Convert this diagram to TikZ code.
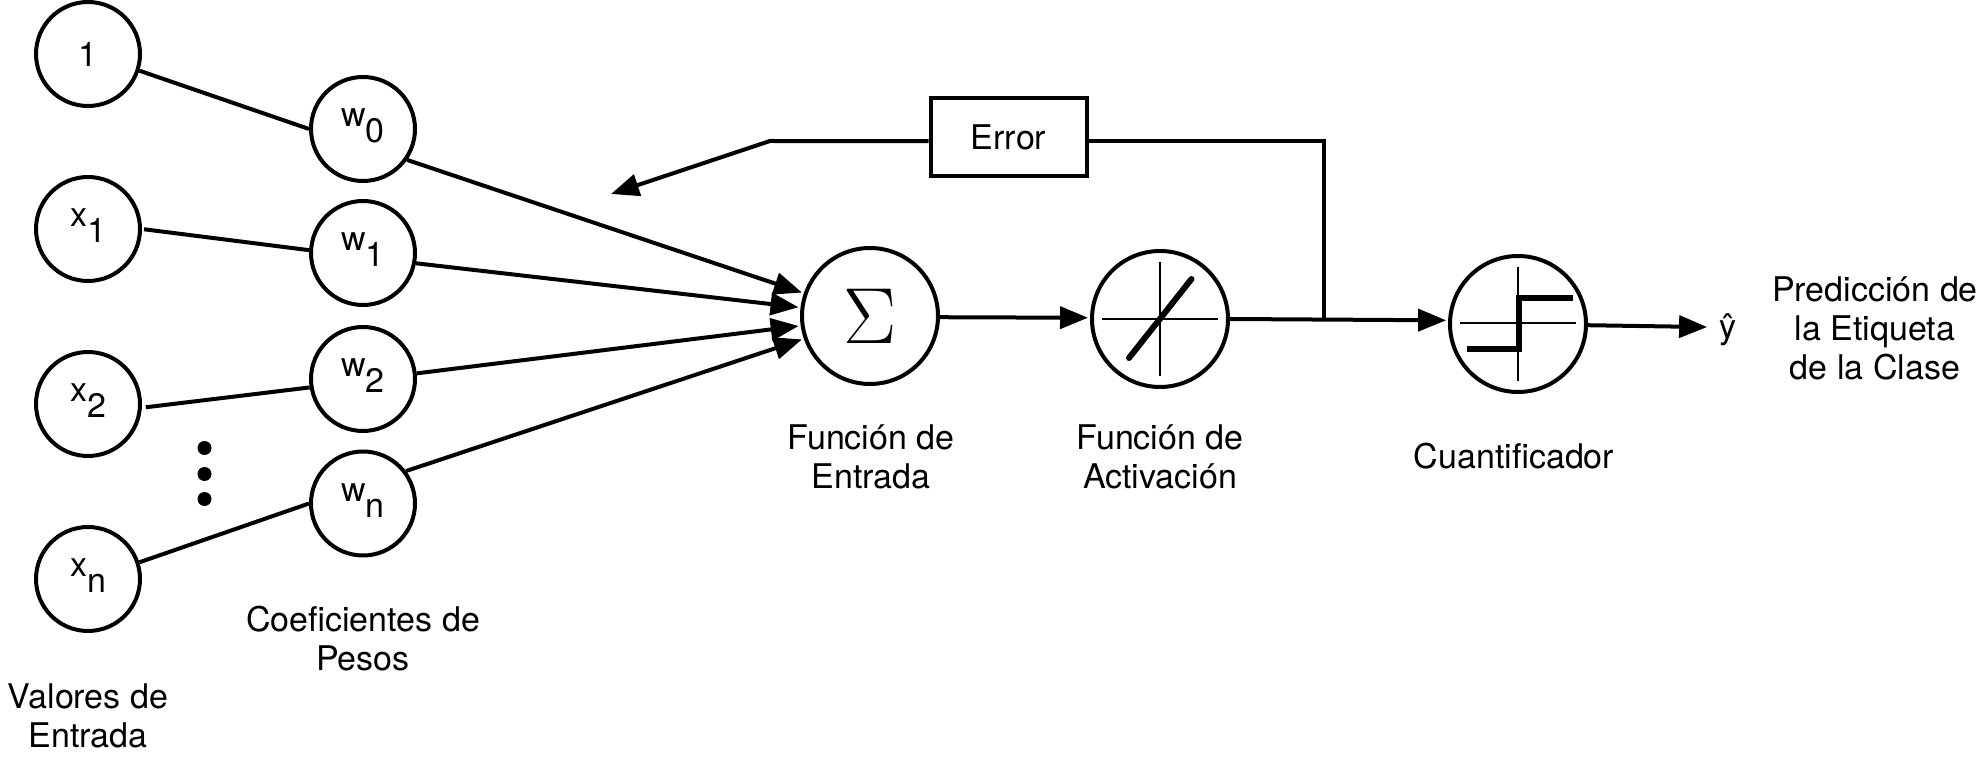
\documentclass[tikz,border=0pt]{standalone}
\usepackage{graphics}
\usepackage{fontspec}
\setmainfont{TeX Gyre Heros}
\usetikzlibrary{arrows.meta,positioning}
\newcommand{\lowsub}[2]{#1\raisebox{-8pt}{#2}\rule[-11pt]{0pt}{11pt}}

\begin{document}
\begin{tikzpicture}[x=0.5pt,y=-0.5pt]
\tikzstyle{every node}=[font=\fontsize{17}{19.5}\selectfont,align=center,inner sep=0pt]
\tikzstyle{ball}=[circle,draw,line width=2pt,minimum size=52pt]
\tikzstyle{unit}=[circle,draw,line width=2pt,minimum size=68pt]
\tikzstyle{wire}=[line width=2pt]
\tikzstyle{feed}=[line width=2pt,-{Triangle[length=14pt,width=11pt]},shorten >=1pt]
\tikzstyle{hair}=[line width=0.8pt]
\tikzstyle{bold}=[line width=3pt,line cap=round]
\useasboundingbox (0,0) rectangle (1988,764);

\node[ball] (in0) at (88,54) {1};
\node[ball] (in1) at (88,229) {\lowsub{x}{1}};
\node[ball] (in2) at (88,404) {\lowsub{x}{2}};
\node[ball] (inn) at (88,579) {\lowsub{x}{n}};
\node[ball] (w0) at (363,129) {\lowsub{w}{0}};
\node[ball] (w1) at (363,253) {\lowsub{w}{1}};
\node[ball] (w2) at (363,379) {\lowsub{w}{2}};
\node[ball] (wn) at (363,503.5) {\lowsub{w}{n}};
\foreach \name/\y in {dota/448,dotb/474,dotc/499}
	\node[circle,fill,minimum size=7pt] (\name) at (204.5,\y) {};

\node[unit] (sum) at (870,316) {\scalebox{2.3}{$\Sigma$}};
\node[unit] (act) at (1160,319) {};
\node[unit] (quant) at (1518,324) {};
\node[draw,line width=2pt,minimum width=78pt,minimum height=39pt] (err) at (1008.5,137) {Error};
\node[inner xsep=6pt] (yhat) at (1728,330) {ŷ};
\coordinate (junc) at (1324,319.5);
\coordinate (errbend) at (770,141);
\coordinate (errtip) at (611,194);

\draw[wire] (in0.-18) -- (w0.180);
\draw[wire,shorten <=1pt] (in1.0) -- (w1.177);
\draw[wire,shorten <=2pt] (in2.-4) -- (w2.189);
\draw[wire] (inn.18) -- (wn.180);
\draw[feed] (w0.-35) -- (sum.161);
\draw[feed] (w1.-11) -- (sum.173);
\draw[feed] (w2.6) -- (sum.188);
\draw[feed] (wn.37) -- (sum.199);
\draw[feed] (sum.-1) -- (act.179);
\draw[feed] (act.0) -- (quant.177);
\draw[feed,shorten >=0pt] (quant.-1) -- (yhat.172);
\draw[wire] (junc) |- (err.-3);
\draw[feed,shorten >=0pt] (err.183) -- (errbend) -- (errtip);

\draw[hair] (1102,319) -- (1218,319);
\draw[hair] (1160,262) -- (1160,376);
\draw[bold] (1129,358) -- (1191.5,279);
\draw[hair] (1460,323) -- (1576,323);
\draw[hair] (1518,267) -- (1518,381);
\draw[bold,line cap=butt] (1467,349) -- (1519,349) -- (1519,298) -- (1573,298);

\node (lblin) at (88,716) {Valores de\\Entrada};
\node (lblw) at (363,639) {Coeficientes de\\Pesos};
\node (lblsum) at (871,457) {Función de\\Entrada};
\node (lblact) at (1160,457) {Función de\\Activación};
\node (lblquant) at (1514,456) {Cuantificador};
\node (lblout) at (1875,328) {Predicción de\\la Etiqueta\\de la Clase};
\end{tikzpicture}
\end{document}
